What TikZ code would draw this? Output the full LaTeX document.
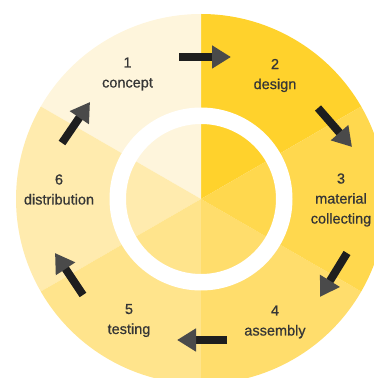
\documentclass[tikz,border=0pt]{standalone}
\usepackage{fontspec}
\setmainfont{Liberation Sans}
\newfontfamily\steplabelfont[FakeBold=0.7]{Liberation Sans}
\usetikzlibrary{arrows.meta, positioning}

\definecolor{secconcept}{HTML}{FEF5DC}
\definecolor{secdesign}{HTML}{FFD22C}
\definecolor{secmaterial}{HTML}{FFD84E}
\definecolor{secassembly}{HTML}{FFDD6C}
\definecolor{sectesting}{HTML}{FFE48C}
\definecolor{secdistribution}{HTML}{FFEBAE}
\definecolor{labelgray}{HTML}{363636}
\definecolor{shaftgray}{HTML}{1E1E1E}
\definecolor{tipgray}{HTML}{4A4A4A}

\begin{document}
\begin{tikzpicture}[x=1pt, y=1pt]

        % --- Styles ---
        \tikzstyle{step label} = [align=center, inner sep=0pt, text=labelgray, font=\steplabelfont\fontsize{14.5pt}{20pt}\selectfont]
        \tikzstyle{cycle arrow} = [line width=8pt, draw=shaftgray, -{Triangle[width=22pt, length=19pt, color=tipgray]}]

        % --- Frame ---
        \useasboundingbox (0,0) rectangle (374,378);
        \clip (0,0) rectangle (374,378);
        \coordinate (c) at (201,179);

        % --- Sectors ---
        \fill[secdesign] (c) -- ++(30:185) arc[start angle=30, end angle=90, radius=185] -- cycle;
        \fill[secconcept] (c) -- ++(90:185) arc[start angle=90, end angle=150, radius=185] -- cycle;
        \fill[secdistribution] (c) -- ++(150:185) arc[start angle=150, end angle=210, radius=185] -- cycle;
        \fill[sectesting] (c) -- ++(210:185) arc[start angle=210, end angle=270, radius=185] -- cycle;
        \fill[secassembly] (c) -- ++(270:185) arc[start angle=270, end angle=330, radius=185] -- cycle;
        \fill[secmaterial] (c) -- ++(330:185) arc[start angle=330, end angle=390, radius=185] -- cycle;

        % white ring
        \fill[white, even odd rule] (c) circle[radius=91.5] (c) circle[radius=75];

        % --- Labels ---
        \node (concept) [step label] at (127.5,304) {1\\concept};
        \node (design) [step label] at (275,302.5) {2\\design};
        \node (material) [step label] at (341,178) {3\\material\\collecting};
        \node (assembly) [step label] at (275,56) {4\\assembly};
        \node (testing) [step label] at (129,57.5) {5\\testing};
        \node (distribution) [step label] at (59,188.5) {6\\distribution};

        % --- Arrows ---
        \coordinate (a1s) at (179,321); \coordinate (a1e) at (231,321);
        \coordinate (a2s) at (318,270); \coordinate (a2e) at (352,231);
        \coordinate (a3s) at (347,125); \coordinate (a3e) at (320,81);
        \coordinate (a4s) at (227,38);  \coordinate (a4e) at (177,38);
        \coordinate (a5s) at (83,83);   \coordinate (a5e) at (55,125);
        \coordinate (a6s) at (62,235);  \coordinate (a6e) at (90,276);

        \draw[cycle arrow] (a1s) -- (a1e);
        \draw[cycle arrow] (a2s) -- (a2e);
        \draw[cycle arrow] (a3s) -- (a3e);
        \draw[cycle arrow] (a4s) -- (a4e);
        \draw[cycle arrow] (a5s) -- (a5e);
        \draw[cycle arrow] (a6s) -- (a6e);
        \end{tikzpicture}
\end{document}
